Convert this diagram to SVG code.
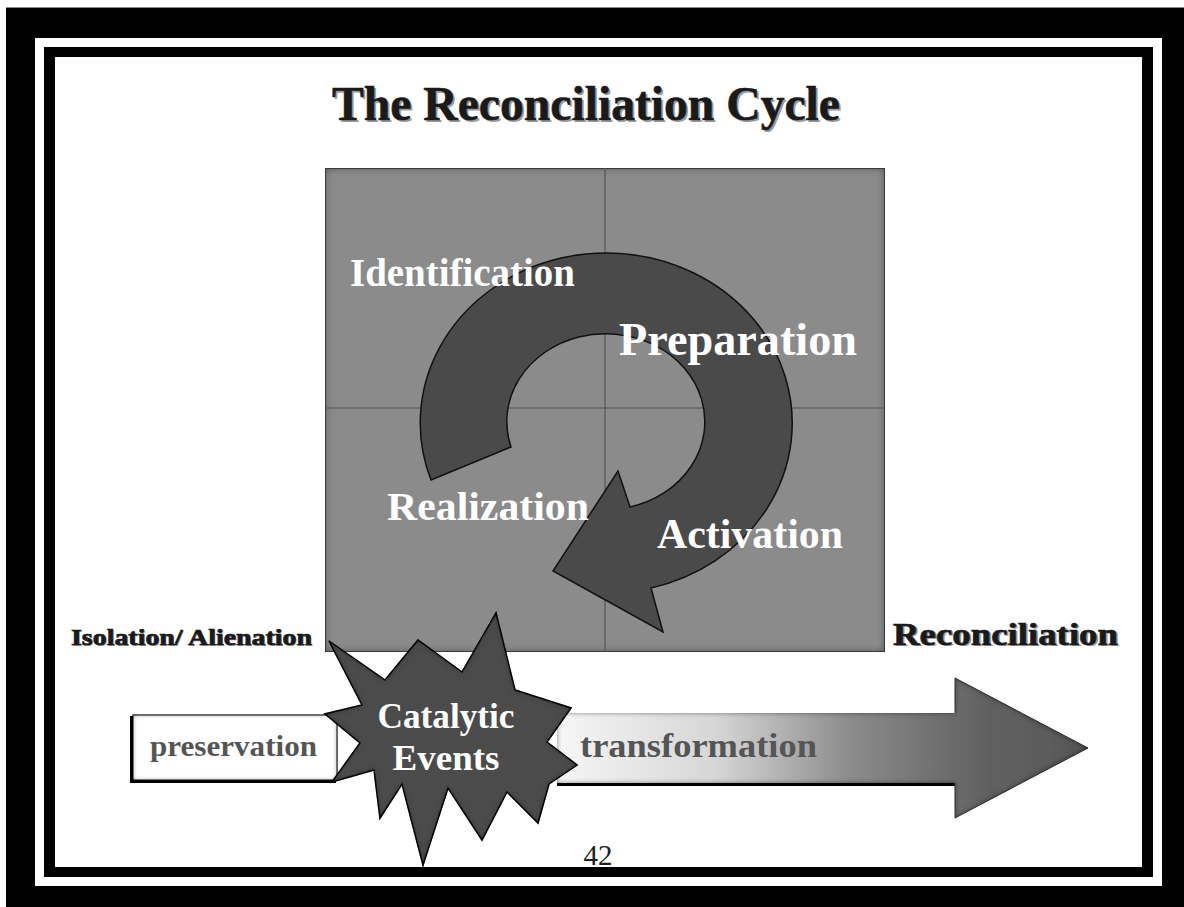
<svg xmlns="http://www.w3.org/2000/svg" width="1184" height="907" viewBox="0 0 1184 907">
<style>
.serif{font-family:"Liberation Serif","Times New Roman",serif;font-weight:bold}
.wlab{fill:#ffffff}
.dark{fill:#1a1a1a}
.shadowtxt{fill:#9a9a9a}
.boxtxt{fill:#555555}
</style>
<defs>
<filter id="inset" x="-5%" y="-5%" width="110%" height="110%">
<feFlood flood-color="#000" flood-opacity="0.8" result="f"/>
<feComposite in="f" in2="SourceAlpha" operator="out" result="outside"/>
<feGaussianBlur in="outside" stdDeviation="4" result="blur"/>
<feComposite in="blur" in2="SourceAlpha" operator="in" result="inner"/>
<feMerge><feMergeNode in="SourceGraphic"/><feMergeNode in="inner"/></feMerge>
</filter>
<filter id="insetSmall" x="-5%" y="-5%" width="110%" height="110%">
<feFlood flood-color="#000" flood-opacity="0.9" result="f"/>
<feComposite in="f" in2="SourceAlpha" operator="out" result="outside"/>
<feGaussianBlur in="outside" stdDeviation="2.5" result="blur"/>
<feComposite in="blur" in2="SourceAlpha" operator="in" result="inner"/>
<feMerge><feMergeNode in="SourceGraphic"/><feMergeNode in="inner"/></feMerge>
</filter>
<linearGradient id="transGrad" x1="557" y1="0" x2="1088" y2="0" gradientUnits="userSpaceOnUse">
<stop offset="0" stop-color="#f6f6f6"/>
<stop offset="0.3" stop-color="#d6d6d6"/>
<stop offset="0.55" stop-color="#8c8c8c"/>
<stop offset="0.8" stop-color="#626262"/>
<stop offset="1" stop-color="#575757"/>
</linearGradient>
</defs>

<rect width="1184" height="907" fill="#ffffff"/>

<g id="frame">
<rect x="6" y="7" width="1178" height="1.2" fill="#8a8a8a"/>
<path d="M6 8 H1184 V907 H6 Z M35 38 V886 H1162 V38 Z" fill="#000" fill-rule="evenodd"/>
<path d="M44 47 H1153 V877 H44 Z M55 57 V867 H1142 V57 Z" fill="#000" fill-rule="evenodd"/>
</g>

<g id="title">
<text class="serif shadowtxt" x="588" y="122" font-size="48" text-anchor="middle" textLength="508" lengthAdjust="spacingAndGlyphs">The Reconciliation Cycle</text>
<text class="serif dark" x="586" y="120" font-size="48" text-anchor="middle" textLength="508" lengthAdjust="spacingAndGlyphs" stroke="#1a1a1a" stroke-width="0.6">The Reconciliation Cycle</text>
</g>

<g id="quadrant">
<rect x="325" y="168" width="560" height="484" fill="#8b8b8b" filter="url(#inset)"/>
<rect x="325.5" y="168.5" width="559" height="483" fill="none" stroke="#3a3a3a" stroke-width="1"/>
<line x1="605" y1="168" x2="605" y2="652" stroke="#555" stroke-width="1.2"/>
<line x1="325" y1="408" x2="885" y2="408" stroke="#555" stroke-width="1.2"/>
</g>

<g id="connectors">
<path id="cycle-arrow" d="M431 480 A186 170 0 1 1 651 588 L663 632 L553 571 L618 471 L630 507 A99 88 0 1 0 511 447 Z" fill="#4a4a4a" stroke="#111" stroke-width="1.5" stroke-linejoin="miter"/>
</g>

<g id="stage-labels">
<text class="serif wlab" x="350" y="286" font-size="39" textLength="225" lengthAdjust="spacingAndGlyphs">Identification</text>
<text class="serif wlab" x="619" y="355" font-size="46" textLength="238" lengthAdjust="spacingAndGlyphs">Preparation</text>
<text class="serif wlab" x="387" y="520" font-size="40" textLength="202" lengthAdjust="spacingAndGlyphs">Realization</text>
<text class="serif wlab" x="657" y="548" font-size="42" textLength="186" lengthAdjust="spacingAndGlyphs">Activation</text>
</g>

<g id="isolation-label">
<text class="serif shadowtxt" x="72" y="646" font-size="23" textLength="241" lengthAdjust="spacingAndGlyphs">Isolation/ Alienation</text>
<text class="serif dark" x="71" y="645" font-size="23" textLength="241" lengthAdjust="spacingAndGlyphs" stroke="#1a1a1a" stroke-width="0.7">Isolation/ Alienation</text>
</g>

<g id="reconciliation-label">
<text class="serif shadowtxt" x="895" y="646" font-size="31" textLength="225" lengthAdjust="spacingAndGlyphs">Reconciliation</text>
<text class="serif dark" x="893" y="645" font-size="31" textLength="225" lengthAdjust="spacingAndGlyphs" stroke="#1a1a1a" stroke-width="0.7">Reconciliation</text>
</g>

<g id="preservation">
<rect x="130" y="716" width="206" height="67" fill="#000"/>
<rect x="133" y="715" width="204" height="65" fill="#ffffff" stroke="#111" stroke-width="1" filter="url(#insetSmall)"/>
<text class="serif boxtxt" x="150" y="756" font-size="29" textLength="167" lengthAdjust="spacingAndGlyphs">preservation</text>
</g>

<g id="transformation">
<rect x="557" y="715" width="398" height="71" fill="#000"/>
<path d="M557 713 L955 713 L955 678 L1088 748 L955 818 L955 783 L557 783 Z" fill="url(#transGrad)" filter="url(#insetSmall)"/>
<path d="M955 713 L955 678 L1088 748 L955 818 L955 783" fill="none" stroke="#333" stroke-width="1"/>
<text class="serif boxtxt" x="580" y="757" font-size="34" textLength="237" lengthAdjust="spacingAndGlyphs">transformation</text>
</g>

<g id="catalytic-events">
<path d="M329 641 L385 680 L418 640 L462 672 L496 613 L515 690 L571 708 L547 742 L577 765 L549 784 L538 823 L507 792 L482 840 L448 788 L423 865 L402 784 L380 818 L374 770 L332 782 L360 743 L325 714 L362 705 Z" fill="#4b4b4b" stroke="#111" stroke-width="1.5" filter="url(#insetSmall)"/>
<text class="serif wlab" x="446" y="728" font-size="36" text-anchor="middle" textLength="137" lengthAdjust="spacingAndGlyphs">Catalytic</text>
<text class="serif wlab" x="446" y="770" font-size="36" text-anchor="middle" textLength="107" lengthAdjust="spacingAndGlyphs">Events</text>
</g>

<g id="page-number">
<text x="598" y="865" font-family="'Liberation Serif','Times New Roman',serif" font-size="29" fill="#222" text-anchor="middle">42</text>
</g>
</svg>
